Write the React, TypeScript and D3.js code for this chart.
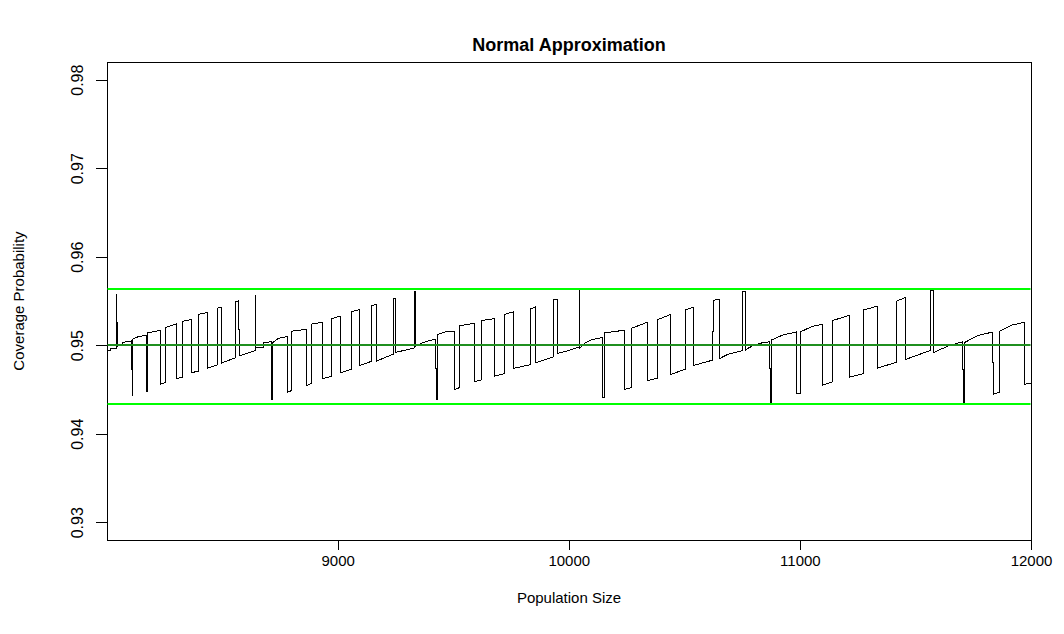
import React, { useEffect, useRef } from 'react';
import * as d3 from 'd3';

// coverage probability vs population size, one array per "ramp"
const cycleA: [number, number][] = [
    [8002, 0.9494], [8017, 0.9494], [8017, 0.9496], [8042, 0.9496], [8042, 0.9557], [8044, 0.9557],
    [8044, 0.9526], [8046, 0.9526], [8046, 0.9499], [8068, 0.95], [8068, 0.9503], [8108, 0.9505],
    [8108, 0.9473], [8111, 0.9473], [8111, 0.9443], [8114, 0.9443], [8114, 0.9507], [8140, 0.951],
    [8172, 0.9511], [8172, 0.9448], [8176, 0.9448], [8176, 0.9514], [8235, 0.9517], [8235, 0.9456],
    [8253, 0.9458], [8253, 0.952], [8302, 0.9524], [8302, 0.9462], [8328, 0.9464], [8328, 0.9527],
    [8368, 0.9529], [8368, 0.9469], [8400, 0.9471], [8400, 0.9535], [8436, 0.9537], [8436, 0.9474],
    [8480, 0.9478], [8480, 0.9542], [8498, 0.9543], [8498, 0.948], [8559, 0.9486], [8559, 0.9549],
    [8571, 0.955], [8571, 0.9518], [8574, 0.9518], [8574, 0.9488], [8643, 0.9494]
];

const cycleB: [number, number][] = [
    [8643, 0.9556], [8645, 0.9556], [8645, 0.9497], [8679, 0.9498], [8679, 0.9503], [8715, 0.9504],
    [8715, 0.9439], [8719, 0.9439], [8719, 0.9503], [8745, 0.9508], [8784, 0.951], [8784, 0.9447],
    [8802, 0.9449], [8802, 0.9516], [8864, 0.9518], [8864, 0.9454], [8888, 0.9457], [8888, 0.9524],
    [8934, 0.9526], [8934, 0.9462], [8972, 0.9465], [8972, 0.953], [9014, 0.9533], [9014, 0.9469],
    [9059, 0.9473], [9059, 0.9538], [9093, 0.954], [9093, 0.9477], [9148, 0.9482], [9148, 0.9545],
    [9166, 0.9546], [9166, 0.9482], [9242, 0.949], [9242, 0.9553], [9252, 0.9553], [9252, 0.9492],
    [9333, 0.9497]
];

const cycleC: [number, number][] = [
    [9333, 0.9561], [9336, 0.9561], [9336, 0.9499], [9360, 0.9502], [9392, 0.9505], [9424, 0.9507],
    [9424, 0.9474], [9428, 0.9474], [9428, 0.9439], [9432, 0.9439], [9432, 0.9512], [9465, 0.9515],
    [9505, 0.9516], [9505, 0.945], [9526, 0.9452], [9526, 0.9522], [9594, 0.9525], [9594, 0.9459],
    [9623, 0.9461], [9623, 0.9528], [9678, 0.953], [9678, 0.9465], [9724, 0.9468], [9724, 0.9535],
    [9763, 0.9538], [9763, 0.9474], [9833, 0.9478], [9833, 0.9541], [9854, 0.9543], [9854, 0.948],
    [9934, 0.9487], [9934, 0.9552], [9953, 0.9552], [9953, 0.9491], [9999, 0.9494], [10046, 0.9498]
];

const cycleD: [number, number][] = [
    [10046, 0.9562], [10048, 0.9562], [10048, 0.9497], [10068, 0.9502], [10097, 0.9506], [10147, 0.9509],
    [10147, 0.9441], [10155, 0.9441], [10155, 0.9514], [10241, 0.9517], [10241, 0.945], [10270, 0.9452],
    [10270, 0.9519], [10340, 0.9526], [10340, 0.946], [10386, 0.9463], [10386, 0.9529], [10442, 0.9535],
    [10442, 0.9467], [10504, 0.9473], [10504, 0.954], [10538, 0.9543], [10538, 0.9477], [10620, 0.9483],
    [10620, 0.9516], [10628, 0.9516], [10628, 0.9551], [10653, 0.9552], [10653, 0.9485], [10690, 0.949],
    [10751, 0.9494]
];

const cycleE: [number, number][] = [
    [10751, 0.9561], [10763, 0.9561], [10763, 0.9494], [10772, 0.9496], [10800, 0.95], [10840, 0.9503],
    [10870, 0.9504], [10870, 0.9474], [10873, 0.9474], [10873, 0.9433], [10877, 0.9433], [10877, 0.9506],
    [10930, 0.9512], [10986, 0.9515], [10986, 0.9445], [11002, 0.9446], [11002, 0.9515], [11050, 0.9521],
    [11100, 0.9524], [11100, 0.9455], [11143, 0.9459], [11143, 0.9528], [11215, 0.9534], [11215, 0.9464],
    [11276, 0.9468], [11276, 0.954], [11334, 0.9544], [11334, 0.9474], [11420, 0.9481], [11420, 0.955],
    [11458, 0.9554], [11458, 0.9484], [11563, 0.9494]
];

const cycleF: [number, number][] = [
    [11563, 0.9562], [11580, 0.9562], [11580, 0.9492], [11640, 0.9499], [11705, 0.9504], [11705, 0.9473],
    [11708, 0.9473], [11708, 0.9433], [11712, 0.9433], [11712, 0.9503], [11770, 0.9511], [11835, 0.9515],
    [11835, 0.948], [11839, 0.948], [11839, 0.9445], [11864, 0.9447], [11864, 0.9516], [11920, 0.9523],
    [11972, 0.9526], [11972, 0.9456], [12000, 0.9457]
];

const refLevels = [0.9434, 0.9563];
const targetLevel = 0.95;

const xTicks = [9000, 10000, 11000, 12000];
const yTicks = [0.93, 0.94, 0.95, 0.96, 0.97, 0.98];

const App: React.FC = () => {
    const svgRef = useRef<SVGSVGElement>(null);
    const width = 1064;
    const height = 634;

    useEffect(() => {
        if (!svgRef.current) return;
        const svg = d3.select(svgRef.current);
        svg.selectAll("*").remove();

        const margin = { top: 62, right: 33, bottom: 94, left: 107 };
        const innerW = width - margin.left - margin.right;
        const innerH = height - margin.top - margin.bottom;
        const font = "'Liberation Sans', Arial, Helvetica, sans-serif";

        const g = svg.append("g")
            .attr("transform", `translate(${margin.left},${margin.top})`);

        const x = d3.scaleLinear().domain([8002, 12000]).range([0, innerW]);
        // R style: ylim 0.93..0.98 padded by 4%
        const y = d3.scaleLinear().domain([0.928, 0.982]).range([innerH, 0]);

        const series = [...cycleA, ...cycleB, ...cycleC, ...cycleD, ...cycleE, ...cycleF];

        const line = d3.line<[number, number]>()
            .x(d => x(d[0]))
            .y(d => y(d[1]));

        g.append("path")
            .datum(series)
            .attr("d", line)
            .attr("fill", "none")
            .attr("stroke", "#000")
            .attr("stroke-width", 1)
            .attr("shape-rendering", "crispEdges");

        // box
        g.append("rect")
            .attr("x", 0).attr("y", 0)
            .attr("width", innerW).attr("height", innerH)
            .attr("fill", "none")
            .attr("stroke", "#000")
            .attr("shape-rendering", "crispEdges");

        // reference lines (abline in green, target in a darker green), drawn on top
        const levels = g.append("g").attr("class", "levels");
        levels.selectAll("rect.bound")
            .data(refLevels)
            .join("rect")
            .attr("class", "bound")
            .attr("x", 0.5)
            .attr("width", innerW - 1)
            .attr("y", d => Math.round(y(d)) - 1)
            .attr("height", 2)
            .attr("fill", "#00ff00");
        levels.append("rect")
            .attr("x", 0.5)
            .attr("width", innerW - 1)
            .attr("y", Math.round(y(targetLevel)) - 1)
            .attr("height", 2)
            .attr("fill", "#1f8f1f");

        // axes
        const xAxis = g.append("g")
            .attr("transform", `translate(0,${innerH})`)
            .call(d3.axisBottom(x).tickValues(xTicks).tickFormat(d3.format("d")).tickSize(10).tickSizeOuter(0).tickPadding(5));
        xAxis.select(".domain").remove();
        xAxis.selectAll("line").attr("stroke", "#000").attr("shape-rendering", "crispEdges");
        xAxis.selectAll("text")
            .style("font-family", font)
            .style("font-size", "15px")
            .attr("fill", "#000");

        const yAxis = g.append("g")
            .call(d3.axisLeft(y).tickValues(yTicks).tickFormat(d3.format(".2f")).tickSize(11).tickSizeOuter(0));
        yAxis.select(".domain").remove();
        yAxis.selectAll("line").attr("stroke", "#000").attr("shape-rendering", "crispEdges");
        yAxis.selectAll("text")
            .attr("transform", "rotate(-90)")
            .attr("x", 0)
            .attr("y", -24)
            .attr("dy", 0)
            .attr("text-anchor", "middle")
            .style("font-family", font)
            .style("font-size", "16px")
            .attr("fill", "#000");

        // titles
        svg.append("text")
            .attr("x", margin.left + innerW / 2)
            .attr("y", 51)
            .attr("text-anchor", "middle")
            .style("font-family", font)
            .style("font-size", "18px")
            .style("font-weight", "bold")
            .text("Normal Approximation");

        svg.append("text")
            .attr("x", margin.left + innerW / 2)
            .attr("y", 603)
            .attr("text-anchor", "middle")
            .style("font-family", font)
            .style("font-size", "15px")
            .text("Population Size");

        svg.append("text")
            .attr("transform", `translate(24,${margin.top + innerH / 2}) rotate(-90)`)
            .attr("text-anchor", "middle")
            .style("font-family", font)
            .style("font-size", "15px")
            .text("Coverage Probability");
    }, []);

    return (
        <svg
            ref={svgRef}
            width={width}
            height={height}
            style={{ position: 'absolute', left: 0, top: 0, background: '#fff', display: 'block' }}
        />
    );
};

export default App;
